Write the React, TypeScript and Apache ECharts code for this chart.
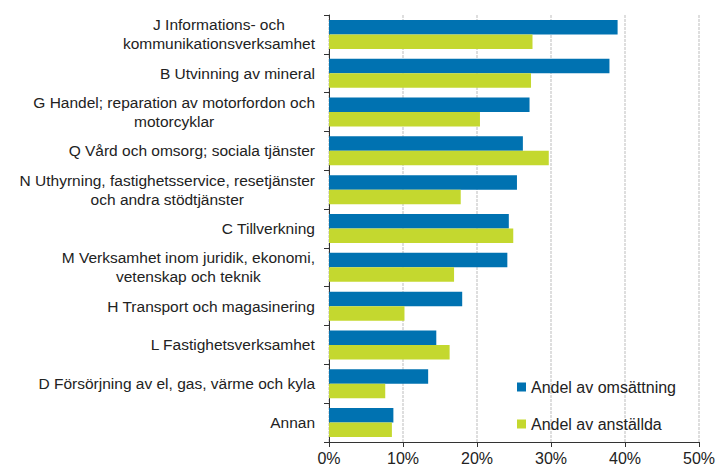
import React, { useEffect, useRef } from "react";
import * as echarts from "echarts";

const categories: string[] = [
  "J Informations- och\nkommunikationsverksamhet",
  "B Utvinning av mineral",
  "G Handel; reparation av motorfordon och\nmotorcyklar",
  "Q Vård och omsorg; sociala tjänster",
  "N Uthyrning, fastighetsservice, resetjänster\noch andra stödtjänster",
  "C Tillverkning",
  "M Verksamhet inom juridik, ekonomi,\nvetenskap och teknik",
  "H Transport och magasinering",
  "L Fastighetsverksamhet",
  "D Försörjning av el, gas, värme och kyla",
  "Annan",
];

const omsattning: number[] = [39.0, 37.9, 27.1, 26.2, 25.4, 24.3, 24.1, 18.0, 14.5, 13.4, 8.7];
const anstallda: number[] = [27.5, 27.3, 20.4, 29.7, 17.8, 24.9, 16.9, 10.2, 16.3, 7.6, 8.5];

const seriesNames: string[] = ["Andel av omsättning", "Andel av anställda"];
const xTicks: number[] = [0, 10, 20, 30, 40, 50];

export default function App() {
  const ref = useRef<HTMLDivElement>(null);
  useEffect(() => {
    if (!ref.current) return;
    const chart = echarts.init(ref.current, undefined, { renderer: "svg" });
    const font = "Liberation Sans, Arial, sans-serif";
    chart.setOption({
      animation: false,
      grid: { left: 329, right: 21, top: 15, bottom: 32, containLabel: false },
      legend: {
        orient: "vertical",
        left: 512,
        top: 374,
        itemWidth: 9,
        itemHeight: 9,
        itemGap: 21,
        icon: "rect",
        textStyle: { fontFamily: font, fontSize: 16, color: "#222" },
        data: seriesNames,
      },
      xAxis: {
        type: "value",
        min: xTicks[0],
        max: xTicks[xTicks.length - 1],
        interval: 10,
        axisLine: { show: true, lineStyle: { color: "#333", width: 1 } },
        axisTick: { show: true, length: 5, lineStyle: { color: "#333" } },
        axisLabel: {
          formatter: "{value}%",
          fontFamily: font,
          fontSize: 16,
          color: "#222",
          margin: 8,
        },
        splitLine: { show: true, lineStyle: { color: "#d4d4d4", width: 1.5, type: [3, 1] } },
      },
      yAxis: {
        type: "category",
        inverse: true,
        data: categories,
        axisLine: { show: true, lineStyle: { color: "#333", width: 1 } },
        axisTick: { show: true, length: 5, lineStyle: { color: "#333" } },
        axisLabel: {
          margin: 14,
          fontFamily: font,
          fontSize: 15.5,
          color: "#222",
          lineHeight: 19,
          formatter: (v: string) =>
            v
              .split("\n")
              .map((l) => "{c|" + l + "}")
              .join("\n"),
          rich: {
            c: { align: "center", fontFamily: font, fontSize: 15.5, color: "#222", lineHeight: 19 },
          },
        },
      },
      series: [
        {
          name: seriesNames[0],
          type: "bar",
          data: omsattning,
          itemStyle: { color: "#0072b1" },
          barWidth: 14.5,
          barGap: "0%",
          barCategoryGap: "25%",
        },
        {
          name: seriesNames[1],
          type: "bar",
          data: anstallda,
          itemStyle: { color: "#c4d82f" },
          barWidth: 14.5,
          barGap: "0%",
        },
      ],
    });
    return () => chart.dispose();
  }, []);
  return <div ref={ref} style={{ width: 720, height: 474, position: "absolute", left: 0, top: 0 }} />;
}
